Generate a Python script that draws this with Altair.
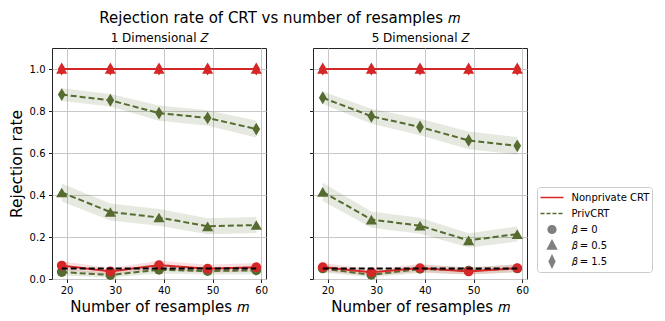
import altair as alt
import pandas as pd

m_values = [19, 29, 39, 49, 59]

# 1 Dimensional Z
d1_nonpriv_b0 = [0.064, 0.036, 0.066, 0.049, 0.056]
d1_nonpriv_b05 = [1.0, 1.0, 1.0, 1.0, 1.0]
d1_nonpriv_b15 = [1.0, 1.0, 1.0, 1.0, 1.0]
d1_priv_b0 = [0.033, 0.019, 0.044, 0.038, 0.041]
d1_priv_b05 = [0.412, 0.319, 0.293, 0.251, 0.257]
d1_priv_b15 = [0.878, 0.851, 0.790, 0.767, 0.714]
d1_nonpriv_b0_hw = [0.021, 0.016, 0.021, 0.019, 0.020]
d1_priv_b0_hw = [0.016, 0.012, 0.018, 0.017, 0.018]
d1_priv_b05_hw = [0.043, 0.041, 0.040, 0.038, 0.038]
d1_priv_b15_hw = [0.030, 0.030, 0.036, 0.037, 0.040]

# 5 Dimensional Z
d5_nonpriv_b0 = [0.056, 0.032, 0.052, 0.036, 0.052]
d5_nonpriv_b05 = [1.0, 1.0, 1.0, 1.0, 1.0]
d5_nonpriv_b15 = [1.0, 1.0, 1.0, 1.0, 1.0]
d5_priv_b0 = [0.050, 0.020, 0.048, 0.040, 0.050]
d5_priv_b05 = [0.415, 0.283, 0.254, 0.184, 0.214]
d5_priv_b15 = [0.863, 0.775, 0.724, 0.660, 0.634]
d5_nonpriv_b0_hw = [0.020, 0.015, 0.019, 0.016, 0.019]
d5_priv_b0_hw = [0.019, 0.012, 0.019, 0.017, 0.019]
d5_priv_b05_hw = [0.043, 0.039, 0.038, 0.034, 0.036]
d5_priv_b15_hw = [0.030, 0.036, 0.039, 0.042, 0.042]

zero_hw = [0.0, 0.0, 0.0, 0.0, 0.0]
alpha_level = [0.05, 0.05, 0.05, 0.05, 0.05]

panel_titles = ["1 Dimensional 𝑍", "5 Dimensional 𝑍"]
beta_levels = ["0", "0.5", "1.5"]
legend_keys = ["Nonprivate CRT", "PrivCRT", "𝛽 = 0", "𝛽 = 0.5", "𝛽 = 1.5"]
x_ticks = [20, 30, 40, 50, 60]
y_ticks = [0.0, 0.2, 0.4, 0.6, 0.8, 1.0]

series = {
    panel_titles[0]: {
        "Nonprivate CRT": {"0": (d1_nonpriv_b0, d1_nonpriv_b0_hw), "0.5": (d1_nonpriv_b05, zero_hw), "1.5": (d1_nonpriv_b15, zero_hw)},
        "PrivCRT": {"0": (d1_priv_b0, d1_priv_b0_hw), "0.5": (d1_priv_b05, d1_priv_b05_hw), "1.5": (d1_priv_b15, d1_priv_b15_hw)},
    },
    panel_titles[1]: {
        "Nonprivate CRT": {"0": (d5_nonpriv_b0, d5_nonpriv_b0_hw), "0.5": (d5_nonpriv_b05, zero_hw), "1.5": (d5_nonpriv_b15, zero_hw)},
        "PrivCRT": {"0": (d5_priv_b0, d5_priv_b0_hw), "0.5": (d5_priv_b05, d5_priv_b05_hw), "1.5": (d5_priv_b15, d5_priv_b15_hw)},
    },
}

rows = []
for panel, methods in series.items():
    for method, betas in methods.items():
        for beta, (vals, hws) in betas.items():
            for m, v, h in zip(m_values, vals, hws):
                rows.append({"panel": panel, "method": method, "beta": beta, "m": m,
                             "value": v, "lo": v - h, "hi": v + h})
df = pd.DataFrame(rows)
alpha_df = pd.DataFrame({"m": m_values, "value": alpha_level})

RED = "#d62728"
GREEN = "#556b2f"
GRAY = "#808080"
DIAMOND = "M0,-1L0.6,0L0,1L-0.6,0Z"
FONT = "DejaVu Sans"
method_style = {"PrivCRT": (GREEN, [6, 3]), "Nonprivate CRT": (RED, [1, 0])}
beta_marker = {"0": ("circle", 95), "0.5": ("triangle-up", 125), "1.5": (DIAMOND, 165)}

# legend glyphs, drawn at one common symbol size (unit box -1..1)
LEG_CIRCLE = "M0.33,0A0.33,0.33 0 1,1 -0.33,0A0.33,0.33 0 1,1 0.33,0Z"
LEG_TRIANGLE = "M0,-0.42L0.38,0.3L-0.38,0.3Z"
LEG_DIAMOND = "M0,-0.5L0.24,0L0,0.5L-0.24,0Z"

x_scale = alt.Scale(domain=[17, 61], nice=False, zero=False)
y_scale = alt.Scale(domain=[0, 1.1], nice=False)
x_axis = alt.Axis(values=x_ticks, title="Number of resamples 𝑚")


def panel_chart(panel, show_y, with_legend):
    sub = df[df["panel"] == panel]
    if show_y:
        y_axis = alt.Axis(values=y_ticks, format=".1f", title="Rejection rate", titleFontSize=15.5)
    else:
        y_axis = alt.Axis(values=y_ticks, labels=False, title=None)
    x_enc = alt.X("m:Q", scale=x_scale, axis=x_axis)
    layers = []
    for method in ["PrivCRT", "Nonprivate CRT"]:
        col, _ = method_style[method]
        layers.append(
            alt.Chart(sub).transform_filter(alt.datum.method == method)
            .mark_area(color=col, opacity=0.15)
            .encode(x=x_enc, y=alt.Y("lo:Q", scale=y_scale, axis=y_axis), y2="hi:Q", detail="beta:N")
        )
    for method in ["PrivCRT", "Nonprivate CRT"]:
        col, dash = method_style[method]
        layers.append(
            alt.Chart(sub).transform_filter(alt.datum.method == method)
            .mark_line(color=col, strokeDash=dash, strokeWidth=2)
            .encode(x=x_enc, y=alt.Y("value:Q", scale=y_scale, axis=y_axis), detail="beta:N")
        )
        for beta in beta_levels:
            shp, sz = beta_marker[beta]
            layers.append(
                alt.Chart(sub).transform_filter((alt.datum.method == method) & (alt.datum.beta == beta))
                .mark_point(shape=shp, size=sz, filled=True, color=col, opacity=1)
                .encode(x=x_enc, y=alt.Y("value:Q", scale=y_scale, axis=y_axis))
            )
    layers.append(
        alt.Chart(alpha_df).mark_line(color="black", strokeDash=[6, 3], strokeWidth=1.8)
        .encode(x=x_enc, y=alt.Y("value:Q", scale=y_scale, axis=y_axis))
    )
    if with_legend:
        legend = alt.Legend(
            title=None, orient="none", legendX=485, legendY=139,
            strokeColor="#cccccc", fillColor="white", cornerRadius=3, padding=2.5,
            labelFont=FONT, labelFontSize=10, labelColor="black", labelOffset=7,
            clipHeight=16, rowPadding=0,
            symbolSize=529, symbolStrokeWidth=1.6, symbolFillColor=GRAY,
            symbolStrokeColor={"expr": "datum.value == 'PrivCRT' ? '" + GREEN + "' : datum.value == 'Nonprivate CRT' ? '" + RED + "' : '" + GRAY + "'"},
            symbolDash={"expr": "datum.value == 'PrivCRT' ? [4, 2] : [1, 0]"},
            symbolOpacity=1,
        )
        layers.append(
            alt.Chart(pd.DataFrame({"key": legend_keys})).transform_filter("false")
            .mark_point(filled=True, opacity=1)
            .encode(
                shape=alt.Shape("key:N", scale=alt.Scale(domain=legend_keys,
                                range=["stroke", "stroke", LEG_CIRCLE, LEG_TRIANGLE, LEG_DIAMOND]), legend=legend),
                fill=alt.Fill("key:N", scale=alt.Scale(domain=legend_keys,
                              range=[GRAY, GRAY, GRAY, GRAY, GRAY]), legend=None),
            )
        )
    return alt.layer(*layers).properties(
        width=214, height=231,
        title=alt.TitleParams(panel, fontSize=12, fontWeight="normal", font=FONT, offset=3),
    )


left = panel_chart(panel_titles[0], True, False)
right = panel_chart(panel_titles[1], False, True)

chart = alt.hconcat(left, right, spacing=40).properties(
    title=alt.TitleParams("Rejection rate of CRT vs number of resamples 𝑚", fontSize=15,
                          fontWeight="normal", font=FONT, anchor="middle", offset=6, dx=-51),
    padding={"left": 0, "top": 2, "right": 0, "bottom": 0},
).configure_view(
    stroke="#222222", strokeWidth=1
).configure_axis(
    grid=True, gridColor="#c8c8c8", gridWidth=1, domain=False,
    tickSize=3.5, tickColor="#222222", labelColor="black", titleColor="black",
    labelFont=FONT, titleFont=FONT, labelFontSize=10, titleFontSize=15,
    titleFontWeight="normal", labelPadding=2.5, titlePadding=4,
).configure_axisY(
    labelPadding=3.5, titlePadding=5,
).configure_title(color="black")

chart.save("out.html", embed_options={"renderer": "svg", "actions": False})
